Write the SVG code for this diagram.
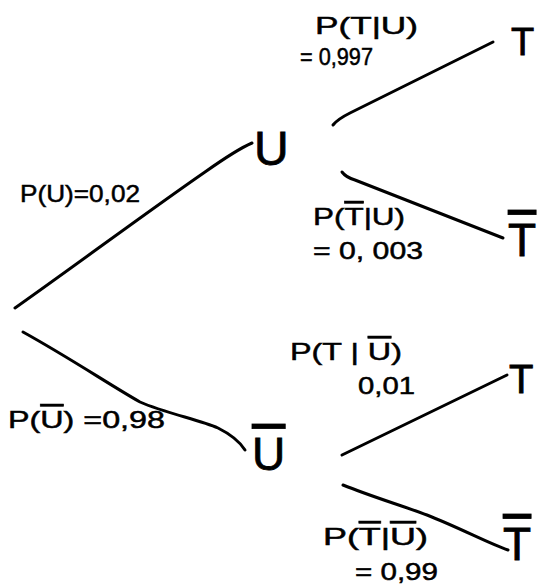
<svg xmlns="http://www.w3.org/2000/svg" width="554" height="584" viewBox="0 0 554 584">
<style>
.edge{fill:none;stroke:#000;stroke-width:3;stroke-linecap:round;stroke-linejoin:round}
.node{font-family:"Liberation Sans","DejaVu Sans",sans-serif;fill:#000;stroke:#000;stroke-width:0.8}
.lbl{font-family:"Liberation Sans","DejaVu Sans",sans-serif;fill:#000;font-size:24px;stroke:#000;stroke-width:0.5}
.ov{text-decoration:overline}
</style>
<rect width="554" height="584" fill="#fff"/>
<g id="connectors">
<path class="edge" d="M15,308 C80,262 150,210 205,172 C222,160 238,149 252,143"/>
<path class="edge" d="M23,332 C70,358 110,385 140,402 C165,413 200,420 218,428 C230,434 240,442 245,450"/>
<path class="edge" d="M333,125 C337,120 342,117 350,113 L493,42"/>
<path class="edge" d="M342,172 C345,176 348,178 355,180 L503,238"/>
<path class="edge" d="M342,455 L507,375"/>
<path class="edge" d="M343,485 C370,496 400,505 427,515 C460,528 490,544 508,550"/>
</g>
<g id="edge-labels">
<text class="lbl" x="315" y="34" textLength="103" lengthAdjust="spacingAndGlyphs">P(T|U)</text>
<text class="lbl" x="300" y="65" font-size="27" textLength="73" lengthAdjust="spacingAndGlyphs">= 0,997</text>
<text class="lbl" x="20" y="202" font-size="26" textLength="120" lengthAdjust="spacingAndGlyphs">P(U)=0,02</text>
<text class="lbl" x="313" y="225" textLength="92" lengthAdjust="spacingAndGlyphs">P(<tspan class="ov">T</tspan>|U)</text>
<text class="lbl" x="313" y="259" font-size="27" textLength="110" lengthAdjust="spacingAndGlyphs">= 0, 003</text>
<text class="lbl" x="8" y="428" font-size="28" textLength="157" lengthAdjust="spacingAndGlyphs">P(<tspan class="ov">U</tspan>) =0,98</text>
<text class="lbl" x="290" y="360" textLength="112" lengthAdjust="spacingAndGlyphs">P(T | <tspan class="ov">U</tspan>)</text>
<text class="lbl" x="358" y="394" textLength="57" lengthAdjust="spacingAndGlyphs">0,01</text>
<text class="lbl" x="323" y="545" textLength="105" lengthAdjust="spacingAndGlyphs">P(<tspan class="ov">T</tspan>|<tspan class="ov">U</tspan>)</text>
<text class="lbl" x="355" y="580" font-size="22" textLength="83" lengthAdjust="spacingAndGlyphs">= 0,99</text>
</g>
<g id="node-U"><text class="node" x="254" y="165" font-size="48">U</text></g>
<g id="node-T1"><text class="node" x="511" y="55" font-size="38">T</text></g>
<g id="node-Tbar1"><text class="node ov" x="508" y="256" font-size="46">T</text></g>
<g id="node-Ubar"><text class="node ov" x="252" y="470" font-size="46">U</text></g>
<g id="node-T2"><text class="node" x="509" y="393" font-size="40">T</text></g>
<g id="node-Tbar2"><text class="node ov" x="503" y="560" font-size="46">T</text></g>
</svg>
